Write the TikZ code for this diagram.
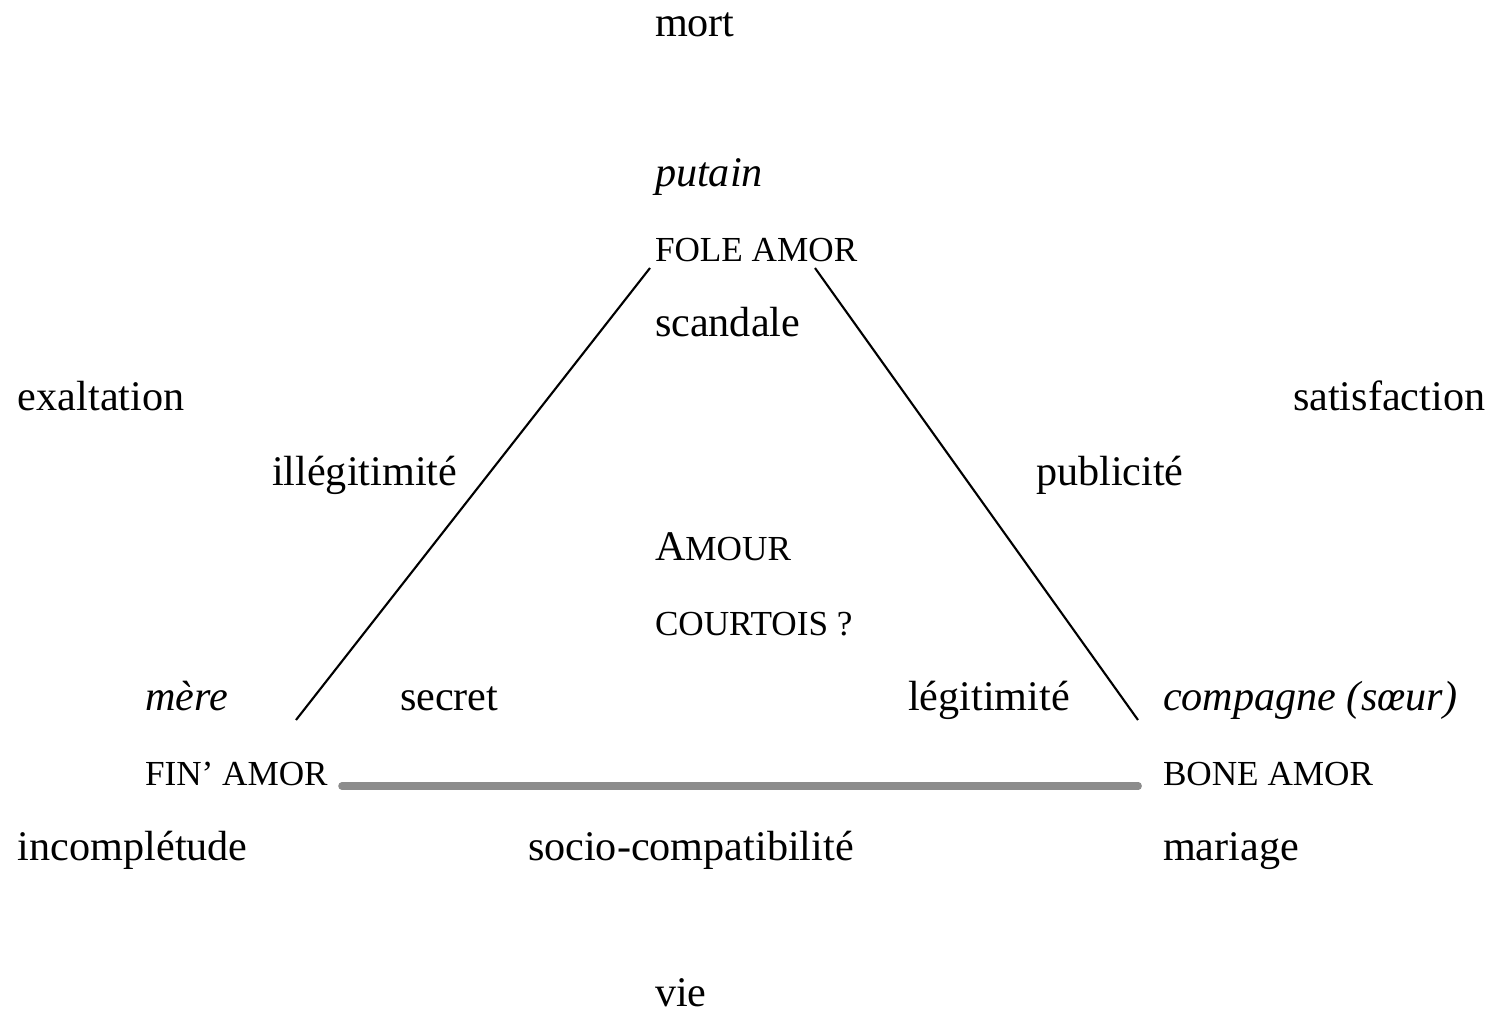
\documentclass[tikz,border=0pt]{standalone}
\usepackage{fontspec}
\setmainfont{Liberation Serif}
\usetikzlibrary{positioning}
\definecolor{linegray}{RGB}{140,140,140}
\newcommand{\capsz}{\fontsize{10}{12}\selectfont}
\tikzset{
        every node/.style={anchor=base west,inner sep=0pt,outer sep=0pt,font=\fontsize{12}{14}\selectfont},
        caps/.style={font=\capsz},
        side/.style={semithick},
        base line/.style={line width=2pt,linegray,line cap=round},
        }

\begin{document}
\begin{tikzpicture}[x=0.01cm,y=-0.01cm]
					\useasboundingbox (0,0) rectangle (1496,1013);

					% top and bottom.....................
					\node (mort) at (655,37) {mort};
					\node (vie) at (655,1007) {vie};

					% FOLE AMOR corner...................
					\node (putain) at (655,187) {\itshape putain};
					\node [caps] (fole) at (655,262) {FOLE AMOR};
					\node (scandale) at (655,337) {scandale};

					% side words.........................
					\node (exalt) at (18,411) {exaltation};
					\node (satis) at (1293,411) {satisfaction};
					\node (illeg) at (272,486) {illégitimité};
					\node (public) at (1036,486) {publicité};

					% centre.............................
					\node (amour) at (655,561) {A{\capsz MOUR}};
					\node [caps] (courtois) at (655,636) {COURTOIS ?};

					% FIN' AMOR corner...................
					\node (mere) at (145,711) {\itshape mère};
					\node (secret) at (400,711) {secret};
					\node [caps] (fin) at (145,786) {FIN' AMOR};
					\node (incompl) at (18,861) {incomplétude};

					% BONE AMOR corner...................
					\node (legit) at (908,711) {légitimité};
					\node (compagne) at (1163,711) {\itshape compagne (sœur)};
					\node [caps] (bone) at (1163,786) {BONE AMOR};
					\node (mariage) at (1163,861) {mariage};

					% bottom side label..................
					\node (socio) at (528,861) {socio-compatibilité};

					% triangle...........................
					\coordinate (topL) at (650,268);
					\coordinate (topR) at (815,268);
					\coordinate (botL) at (296,720);
					\coordinate (botR) at (1138,720);
					\draw [side] (topL) to (botL);
					\draw [side] (topR) to (botR);
					\draw [base line] ([xshift=4pt]fin.base east) to ([xshift=-7pt]bone.base west);
				\end{tikzpicture}
\end{document}
